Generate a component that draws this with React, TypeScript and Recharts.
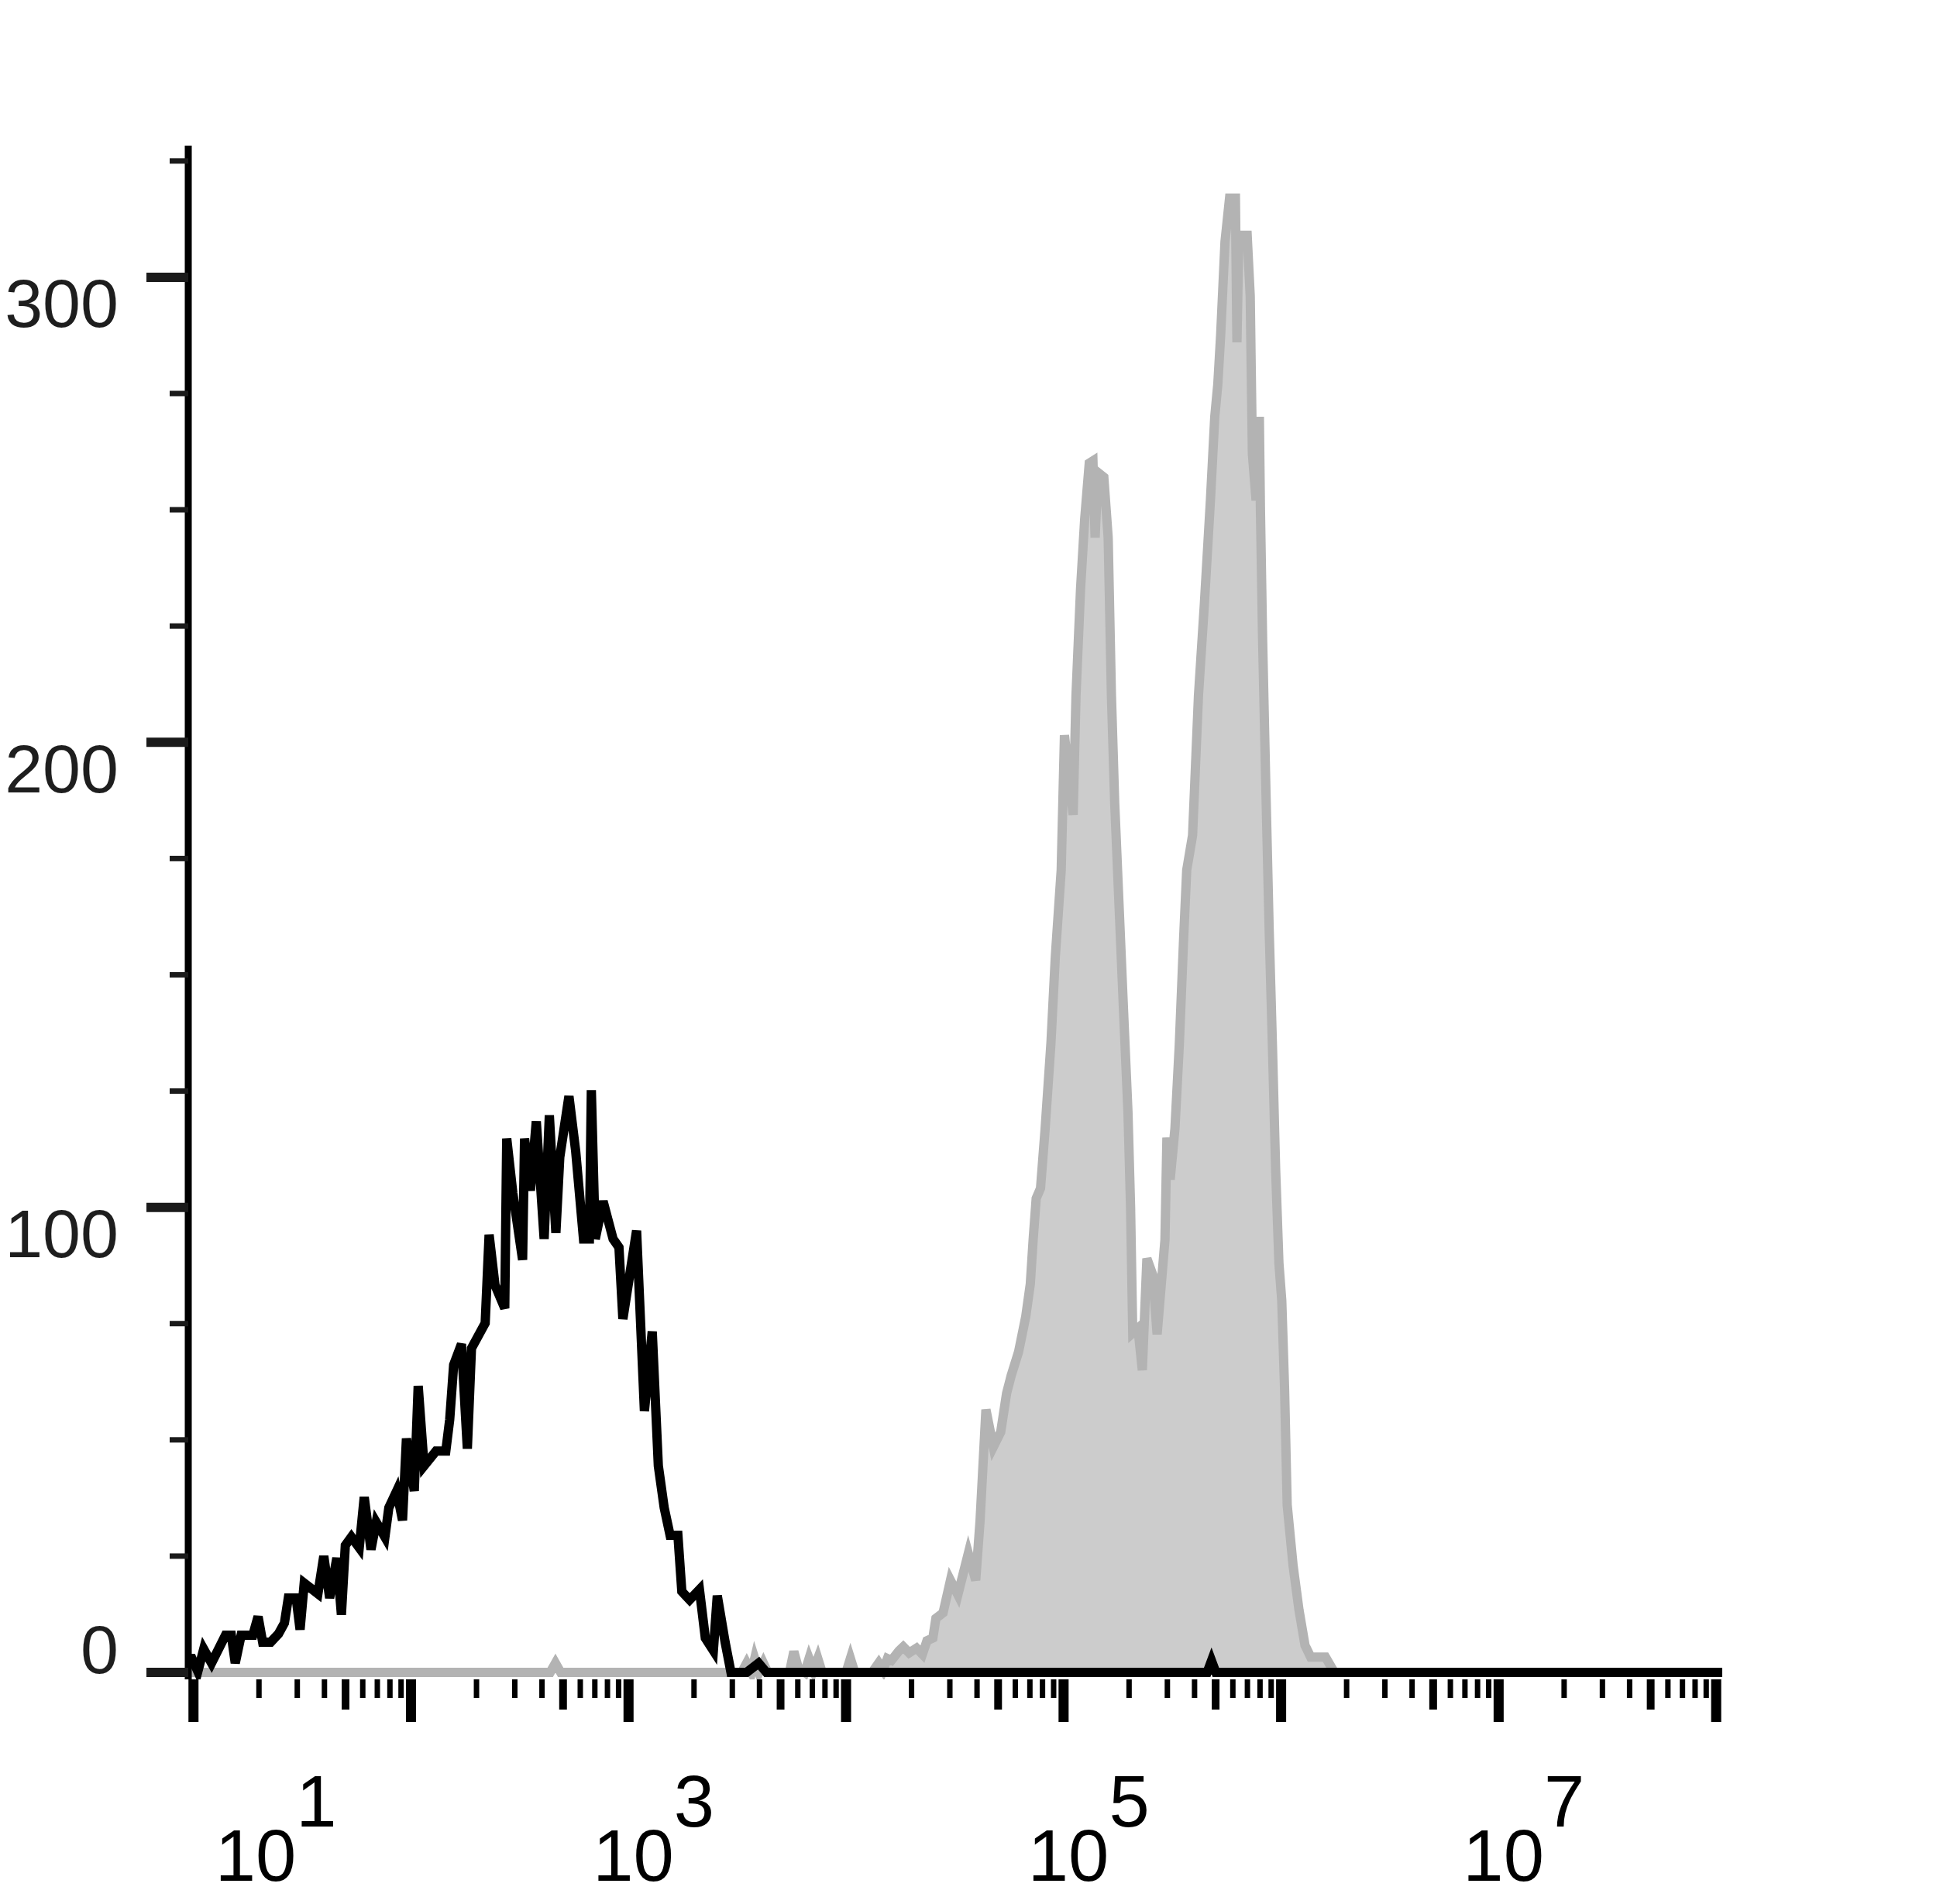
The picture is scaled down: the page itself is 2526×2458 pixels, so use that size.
import { ComposedChart, Area, Line, XAxis, YAxis } from "recharts";

// log10 of fluorescence intensity (x) and cell count (y)
const controlLog = [
  0.975, 0.993, 1.02, 1.047, 1.083, 1.147, 1.174, 1.192, 1.219, 1.273, 1.297, 1.318, 1.355, 1.391,
  1.418, 1.436, 1.472, 1.49, 1.509, 1.572, 1.599, 1.626, 1.659, 1.68, 1.698, 1.726, 1.762, 1.785,
  1.816, 1.84, 1.88, 1.898, 1.934, 1.961, 1.979, 2.015, 2.033, 2.06, 2.115, 2.16, 2.178, 2.196,
  2.232, 2.259, 2.278, 2.341, 2.359, 2.386, 2.431, 2.44, 2.468, 2.513, 2.522, 2.549, 2.576, 2.612,
  2.636, 2.666, 2.684, 2.726, 2.757, 2.793, 2.82, 2.829, 2.847, 2.883, 2.929, 2.956, 2.974, 3.037,
  3.073, 3.109, 3.137, 3.164, 3.191, 3.227, 3.245, 3.281, 3.326, 3.353, 3.39, 3.408, 3.444, 3.471,
  3.543, 3.598, 3.634, 5.66, 5.68, 5.7, 8.028,
];
const controlCount = [
  3, 3, 0.2, 5, 2, 8, 8, 2, 8, 8, 12, 6.5, 6.5, 8.3,
  10.6, 16, 16, 9.2, 19.2, 16.9, 25, 16, 24.6, 12.4, 27.3, 29.1, 26.8, 37.7,
  26.4, 32.3, 29.1, 35.4, 39, 32.7, 50.3, 39, 61.6, 44.4, 47.6, 47.6, 54.4, 66.1,
  70.6, 48.1, 69.7, 75.1, 94.1, 83.3, 78.3, 114.8, 103.1, 88.7, 114.8, 103.6, 118.5, 93.2,
  119.8, 94.5, 110.8, 123.9, 112.1, 93.2, 93.2, 125.2, 93.2, 101.3, 93.2, 91.4, 76, 95,
  56.2, 73.3, 44.4, 35.4, 29.5, 29.5, 17.4, 15.6, 17.8, 7.4, 4.7, 16.5, 6.5, 0,
  0, 2, 0, 0, 2.5, 0, 0,
];

const stainedLog = [
  0.976, 2.64, 2.664, 2.688, 3.52, 3.543, 3.565, 3.58, 3.6, 3.62, 3.64, 3.74, 3.76, 3.78, 3.81,
  3.83, 3.85, 3.87, 3.89, 4.0, 4.02, 4.04, 4.12, 4.15, 4.17, 4.19,
  4.209, 4.243, 4.263, 4.29, 4.324, 4.351, 4.372, 4.399, 4.413, 4.446, 4.48, 4.514, 4.562, 4.596,
  4.616, 4.643, 4.677, 4.711, 4.738, 4.759, 4.793, 4.826, 4.847, 4.86, 4.874, 4.894, 4.915, 4.942,
  4.962, 4.989, 5.004, 5.044, 5.057, 5.078, 5.097, 5.118, 5.135, 5.145, 5.158, 5.185, 5.205, 5.22,
  5.235, 5.255, 5.275, 5.296, 5.308, 5.318, 5.342, 5.362, 5.383, 5.41, 5.43, 5.466, 5.475, 5.49,
  5.512, 5.532, 5.552, 5.566, 5.593, 5.62, 5.647, 5.675, 5.695, 5.709, 5.722, 5.742, 5.763, 5.79,
  5.797, 5.806, 5.844, 5.858, 5.868, 5.885, 5.9, 5.905, 5.915, 5.93, 5.945, 5.96, 5.975, 5.99,
  6.003, 6.016, 6.028, 6.055, 6.082, 6.11, 6.136, 6.204, 6.245, 8.028,
];
const stainedCount = [
  0, 0, 2, 0, 0, 2, 0, 3, 0, 2, 0, 0, 4.5, 1, 0,
  3, 0.5, 3, 0, 0, 3, 0, 0, 2, 0.5, 3,
  2.6, 4.6, 5.5, 4.2, 5.2, 3.9, 6.8, 7.4, 11.6, 12.8, 19.8, 16.7, 25.6, 19.8,
  32.6, 56.5, 48.5, 51.7, 60, 63.8, 68.9, 76.5, 83.5, 93, 101.9, 104.1, 116.8, 135.4,
  153.9, 172.5, 201.5, 184.4, 210, 233, 248, 260, 260.5, 244, 258, 257, 244, 210,
  187, 165, 143, 120.5, 100, 73, 74, 65, 89, 85.5, 72.7, 93, 115, 106,
  117, 135, 158, 172.5, 180, 210, 229.6, 252, 270, 277, 287.5, 307.6, 317, 317,
  286, 309, 309, 296, 262, 252, 270, 250, 222, 190, 160, 135, 108, 88,
  80, 61, 36, 23, 13.5, 5.8, 3.3, 3.3, 0, 0,
];

const yTicks = [0, 25, 50, 75, 100, 125, 150, 175, 200, 225, 250, 275, 300, 325];
const yLabelled = [0, 100, 200, 300];
const xDecades = [1, 2, 3, 4, 5, 6, 7, 8];
const xLabelled = [1, 3, 5, 7];
const minorSteps = [1, 2, 3, 4, 5, 6, 7, 8, 9];

const X_DOMAIN: [number, number] = [0.976, 8.028];
const Y_DOMAIN: [number, number] = [-1.5, 328.3];
const FONT = '"Liberation Sans", Arial, Helvetica, sans-serif';

const xTicks = xDecades
  .flatMap((d) => minorSteps.map((m) => d + Math.log10(m)))
  .filter((v) => v <= X_DOMAIN[1]);

const control = controlLog.map((x, i) => ({ x, y: controlCount[i] }));
const stained = stainedLog.map((x, i) => ({ x, y: stainedCount[i] }));

function XTick({ x, y, payload }: any) {
  const v = payload.value as number;
  const exp = Math.round(v);
  const isDecade = Math.abs(v - exp) < 1e-6;
  const frac = v - Math.floor(v + 1e-9);
  const isFive = Math.abs(frac - Math.log10(5)) < 1e-6;
  const len = isDecade ? 55 : isFive ? 39 : 24;
  const w = isDecade ? 13 : isFive ? 10 : 7;
  const showLabel = isDecade && xLabelled.includes(exp);
  // the first label is pushed right so it stays clear of the corner
  const ox = exp === 1 ? x + 28 : x - 46;
  return (
    <g>
      <line x1={x} x2={x} y1={y} y2={y + len} stroke="#000" strokeWidth={w} />
      {showLabel && (
        <text x={ox} y={y + 260} fontSize={94} fontFamily={FONT} fill="#000">
          <tspan>10</tspan>
          <tspan dy={-70}>{exp}</tspan>
        </text>
      )}
    </g>
  );
}

function YTick({ x, y, payload }: any) {
  const v = payload.value as number;
  const major = yLabelled.includes(v);
  const len = major ? 54 : 24;
  const w = major ? 12 : 7;
  return (
    <g>
      <line x1={x - len} x2={x} y1={y} y2={y} stroke="#1a1a1a" strokeWidth={w} />
      {major && (
        <text
          x={x - 90}
          y={y + (v === 0 ? -29 : 34)}
          textAnchor="end"
          dominantBaseline="central"
          fontSize={88}
          fontFamily={FONT}
          fill="#1e1e1e"
        >
          {v}
        </text>
      )}
    </g>
  );
}

export default function App() {
  return (
    <div style={{ position: "absolute", left: 0, top: 0, background: "#fff" }}>
      <ComposedChart width={2526} height={2458} margin={{ top: 188, right: 303, bottom: 0, left: 0 }}>
        <XAxis
          dataKey="x"
          type="number"
          domain={X_DOMAIN}
          ticks={xTicks}
          interval={0}
          allowDataOverflow
          height={290}
          axisLine={false}
          tickLine={false}
          tickSize={0}
          tickMargin={0}
          tick={(p: any) => <XTick {...p} />}
        />
        <XAxis
          xAxisId="top"
          orientation="top"
          type="number"
          domain={[0, 1]}
          height={0}
          tick={false}
          tickLine={false}
          axisLine={{ stroke: "#000", strokeWidth: 5 }}
        />
        <YAxis
          type="number"
          domain={Y_DOMAIN}
          ticks={yTicks}
          interval={0}
          allowDataOverflow
          width={243}
          axisLine={{ stroke: "#000", strokeWidth: 9 }}
          tickLine={false}
          tickSize={0}
          tickMargin={0}
          tick={(p: any) => <YTick {...p} />}
        />
        <YAxis
          yAxisId="right"
          orientation="right"
          type="number"
          domain={[0, 1]}
          width={0}
          tick={false}
          tickLine={false}
          axisLine={{ stroke: "#000", strokeWidth: 5 }}
        />
        <Area
          data={stained}
          dataKey="y"
          type="linear"
          stroke="#b3b3b3"
          strokeWidth={12}
          fill="#cccccc"
          fillOpacity={1}
          dot={false}
          activeDot={false}
          isAnimationActive={false}
        />
        <Line
          data={control}
          dataKey="y"
          type="linear"
          stroke="#000"
          strokeWidth={12}
          dot={false}
          activeDot={false}
          isAnimationActive={false}
        />
      </ComposedChart>
    </div>
  );
}
